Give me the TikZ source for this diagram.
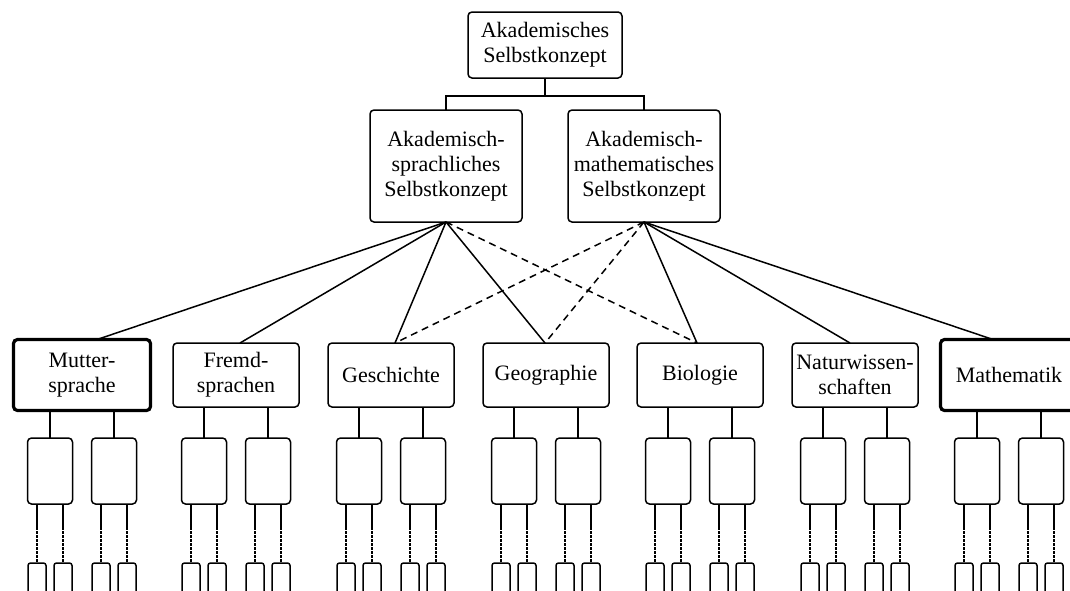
\documentclass[tikz,border=0pt]{standalone}
\usepackage{fontspec}
\setmainfont{Liberation Serif}
\usetikzlibrary{calc}
\begin{document}
\begin{tikzpicture}[x=1pt,y=-1pt,
  box/.style={draw, rounded corners=4pt, line width=1.5pt, align=center, inner sep=0pt, outer sep=0pt, font=\fontsize{22}{25}\selectfont},
  bot/.style={box, minimum width=126pt, minimum height=64pt},
  thickbox/.style={box, line width=3.2pt, minimum width=137pt, minimum height=71pt},
  subbox/.style={draw, rounded corners=4pt, line width=1.5pt, minimum width=45pt, minimum height=66pt, inner sep=0pt, outer sep=0pt},
  tinybox/.style={draw, rounded corners=2.5pt, line width=1.5pt, minimum width=18pt, minimum height=40pt, inner sep=0pt, outer sep=0pt, anchor=north},
  link/.style={line width=1.5pt},
  dlink/.style={line width=1.5pt, dash pattern=on 7pt off 5pt},
  fine/.style={line width=1.5pt, dash pattern=on 2.5pt off 1.5pt}]
\useasboundingbox (0,0) rectangle (1070,590);
\clip (0,0) rectangle (1070,590);

\node[box, minimum width=154pt, minimum height=66pt] (top) at (545,45) {Akademisches\\Selbstkonzept};
\node[box, minimum width=152pt, minimum height=112pt] (verb) at (446,166) {Akademisch-\\sprachliches\\Selbstkonzept};
\node[box, minimum width=152pt, minimum height=112pt] (math) at (644,166) {Akademisch-\\mathematisches\\Selbstkonzept};

\coordinate (j) at ($(top.south)+(0,18)$);
\draw[link] (top.south) -- (j);
\draw[link] (verb.north) |- (j) -| (math.north);

\node[thickbox] (b1) at (82,375) {Mutter-\\sprache};
\node[bot] (b2) at (236,375) {Fremd-\\sprachen};
\node[bot] (b3) at (391,375) {Geschichte};
\node[bot] (b4) at (546,375) {Geographie};
\node[bot] (b5) at (700,375) {Biologie};
\node[bot] (b6) at (855,375) {Naturwissen-\\schaften};
\node[thickbox] (b7) at (1009,375) {Mathematik};

\draw[link] (verb.south) -- ($(b1.north)+(15,0)$);
\draw[link] (verb.south) -- ($(b2.north)+(4,0)$);
\draw[link] (verb.south) -- ($(b3.north)+(4,0)$);
\draw[link] (verb.south) -- ($(b4.north)+(-1,0)$);
\draw[dlink] (verb.south) -- ($(b5.north)+(-3,0)$);
\draw[dlink] (math.south) -- ($(b3.north)+(4,0)$);
\draw[dlink] (math.south) -- ($(b4.north)+(-1,0)$);
\draw[link] (math.south) -- ($(b5.north)+(-3,0)$);
\draw[link] (math.south) -- ($(b6.north)+(-5,0)$);
\draw[link] (math.south) -- ($(b7.north)+(-16,0)$);

\foreach \i/\x in {1/82,2/236,3/391,4/546,5/700,6/855,7/1009}{
  \foreach \s/\dx in {a/-32,b/32}{
    \node[subbox] (s\i\s) at (\x+\dx,471) {};
    \draw[link] (s\i\s.north |- b\i.south) -- (s\i\s.north);
    \foreach \t/\ddx in {l/-13,r/13}{
      \node[tinybox] (t\i\s\t) at (\x+\dx+\ddx,563) {};
      \coordinate (m\i\s\t) at (\x+\dx+\ddx,527);
      \draw[link] (t\i\s\t.north |- s\i\s.south) -- (m\i\s\t);
      \draw[fine] (m\i\s\t) -- (t\i\s\t.north);
    }
  }
}
\end{tikzpicture}
\end{document}
